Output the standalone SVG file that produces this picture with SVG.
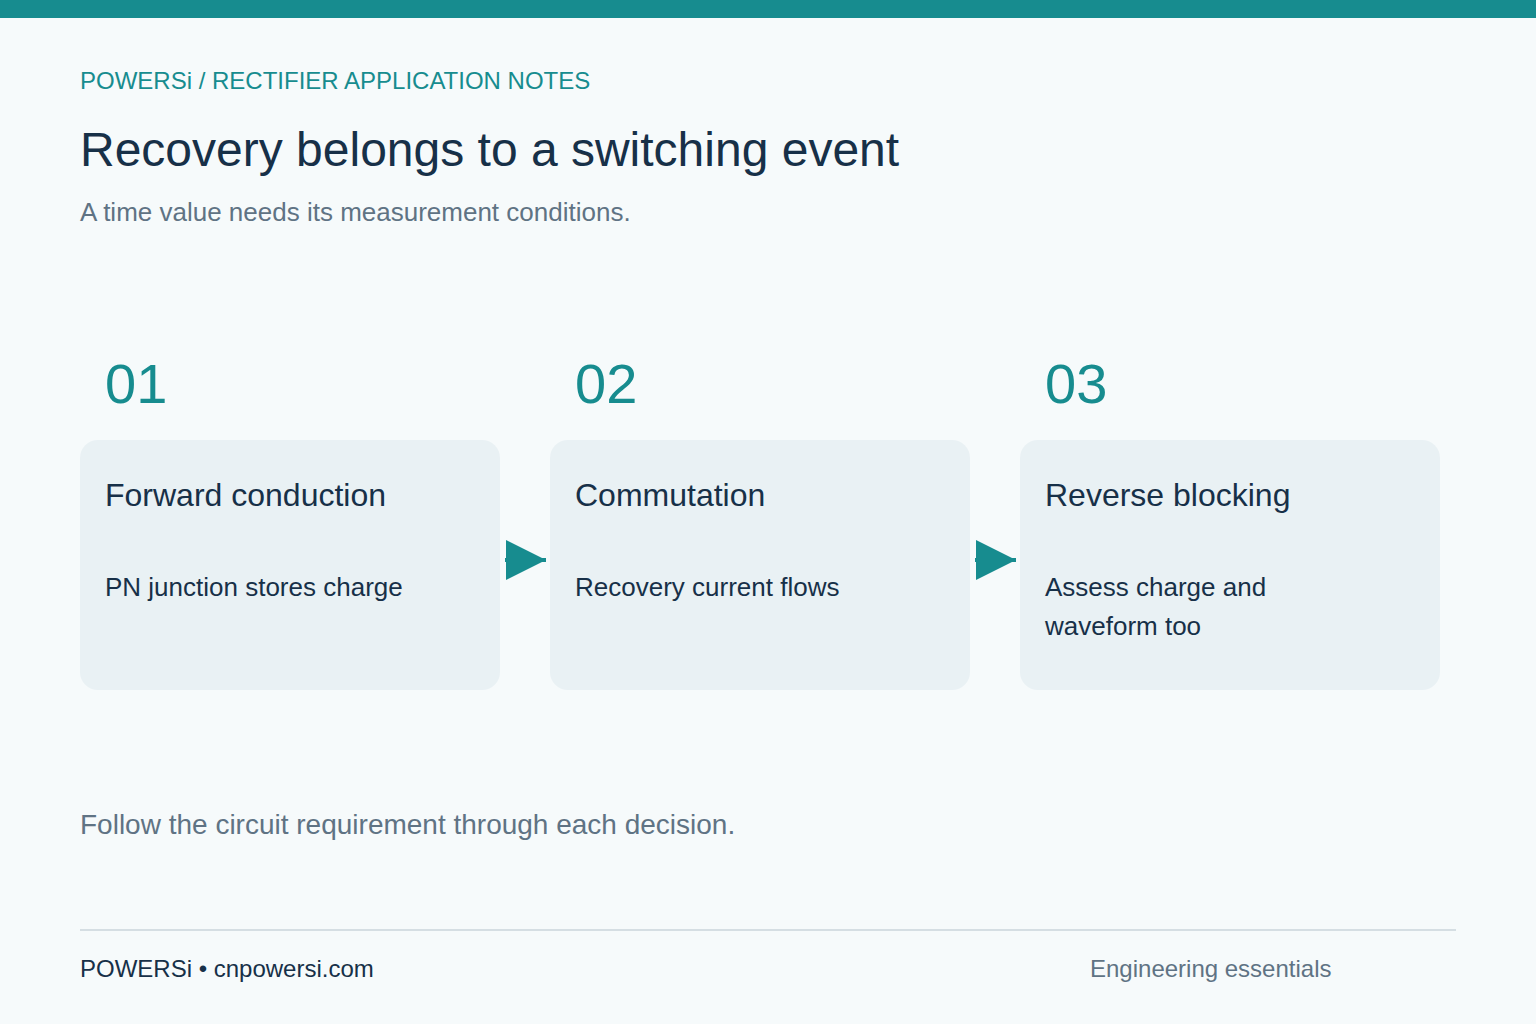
<svg xmlns="http://www.w3.org/2000/svg" width="1536" height="1024" viewBox="0 0 1536 1024">
<style>
text{font-family:"Liberation Sans",Arial,sans-serif}
.card{fill:#e9f1f4}
.num{fill:#178c8f;font-size:56px}
.t{fill:#173048;font-size:32px}
.b{fill:#173048;font-size:26px}
</style>
<defs><marker id="ah" markerUnits="userSpaceOnUse" markerWidth="40" markerHeight="40" refX="40" refY="20" orient="auto"><path d="M0,0L40,20L0,40z" fill="#178c8f"/></marker></defs>
<rect width="1536" height="1024" fill="#f6fafb"/>
<rect width="1536" height="18" fill="#178c8f"/>
<text x="80" y="89" fill="#178c8f" font-size="24">POWERSi / RECTIFIER APPLICATION NOTES</text>
<text x="80" y="166" fill="#173048" font-size="48">Recovery belongs to a switching event</text>
<text x="80" y="221" fill="#5f7384" font-size="26">A time value needs its measurement conditions.</text>
<g id="n1"><text class="num" x="105" y="403">01</text><rect class="card" x="80" y="440" width="420" height="250" rx="18"/><text class="t" x="105" y="506">Forward conduction</text><text class="b" x="105" y="596">PN junction stores charge</text></g>
<g id="n2"><text class="num" x="575" y="403">02</text><rect class="card" x="550" y="440" width="420" height="250" rx="18"/><text class="t" x="575" y="506">Commutation</text><text class="b" x="575" y="596">Recovery current flows</text></g>
<g id="n3"><text class="num" x="1045" y="403">03</text><rect class="card" x="1020" y="440" width="420" height="250" rx="18"/><text class="t" x="1045" y="506">Reverse blocking</text><text class="b" x="1045" y="596">Assess charge and</text><text class="b" x="1045" y="635">waveform too</text></g>
<g id="connectors" stroke="#178c8f" stroke-width="4"><line x1="505" y1="560" x2="546" y2="560" marker-end="url(#ah)"/><line x1="975" y1="560" x2="1016" y2="560" marker-end="url(#ah)"/></g>
<text x="80" y="834" fill="#5f7384" font-size="28">Follow the circuit requirement through each decision.</text>
<line x1="80" y1="930" x2="1456" y2="930" stroke="#d5dee3" stroke-width="2"/>
<text x="80" y="977" fill="#173048" font-size="24">POWERSi • cnpowersi.com</text>
<text x="1090" y="977" fill="#5f7384" font-size="24">Engineering essentials</text>
</svg>
